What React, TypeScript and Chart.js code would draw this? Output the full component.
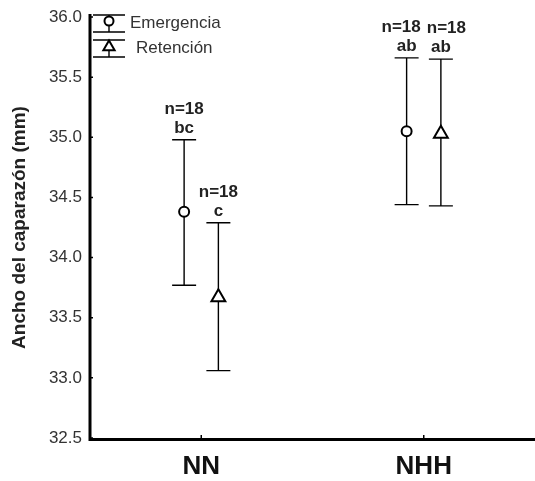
import React, { useEffect, useRef } from 'react';
import { Chart, registerables } from 'chart.js';

Chart.register(...registerables);

const categories = ['NN', 'NHH'];
const seriesNames = ['Emergencia', 'Retención'];
const emergenciaMean = [34.38, 35.05];
const emergenciaLow = [33.77, 34.44];
const emergenciaHigh = [34.98, 35.66];
const retencionMean = [33.67, 35.03];
const retencionLow = [33.06, 34.43];
const retencionHigh = [34.29, 35.65];
const emergenciaN = [18, 18];
const retencionN = [18, 18];
const emergenciaLetters = ['bc', 'ab'];
const retencionLetters = ['c', 'ab'];
const yTickValues = [32.5, 33.0, 33.5, 34.0, 34.5, 35.0, 35.5, 36.0];
const yTitle = 'Ancho del caparazón (mm)';

const FONT = '"Liberation Sans", Arial, sans-serif';
const SERIES_OFFSET = 0.077;

const seriesStats = [
  { mean: emergenciaMean, low: emergenciaLow, high: emergenciaHigh, n: emergenciaN, letters: emergenciaLetters, style: 'circle' },
  { mean: retencionMean, low: retencionLow, high: retencionHigh, n: retencionN, letters: retencionLetters, style: 'triangle' },
];

function drawMarker(ctx: CanvasRenderingContext2D, style: string, x: number, y: number, r: number) {
  ctx.save();
  ctx.fillStyle = '#fff';
  ctx.strokeStyle = '#000';
  ctx.lineWidth = 2;
  ctx.beginPath();
  if (style === 'circle') {
    ctx.arc(x, y, r, 0, Math.PI * 2);
  } else {
    const h = r * 1.5;
    const w = r * Math.sqrt(3);
    ctx.moveTo(x, y - r);
    ctx.lineTo(x + w / 2, y - r + h);
    ctx.lineTo(x - w / 2, y - r + h);
    ctx.closePath();
  }
  ctx.fill();
  ctx.stroke();
  ctx.restore();
}

const customPlugin = {
  id: 'customDraw',
  beforeDraw(chart: any) {
    const ctx = chart.ctx;
    ctx.save();
    ctx.fillStyle = '#fff';
    ctx.fillRect(0, 0, chart.width, chart.height);
    ctx.restore();
  },
  beforeDatasetsDraw(chart: any) {
    const ctx: CanvasRenderingContext2D = chart.ctx;
    const ys = chart.scales.y;
    const xs = chart.scales.x;
    const { left, right, top, bottom } = chart.chartArea;
    ctx.save();
    // axes
    ctx.strokeStyle = '#000';
    ctx.lineWidth = 3;
    ctx.beginPath();
    ctx.moveTo(left, top - 3);
    ctx.lineTo(left, bottom + 1.5);
    ctx.lineTo(right, bottom + 1.5);
    ctx.stroke();
    // tick marks
    ctx.lineWidth = 1.5;
    ctx.beginPath();
    yTickValues.forEach((v) => {
      const py = ys.getPixelForValue(v);
      ctx.moveTo(left, py);
      ctx.lineTo(left + 3, py);
    });
    categories.forEach((_, i) => {
      const px = xs.getPixelForValue(i);
      ctx.moveTo(px, bottom);
      ctx.lineTo(px, bottom - 3);
    });
    ctx.stroke();
    // error bars
    ctx.lineWidth = 1.4;
    seriesStats.forEach((s, di) => {
      const meta = chart.getDatasetMeta(di);
      meta.data.forEach((pt: any, j: number) => {
        const x = pt.x;
        const yh = ys.getPixelForValue(s.high[j]);
        const yl = ys.getPixelForValue(s.low[j]);
        ctx.beginPath();
        ctx.moveTo(x, yh);
        ctx.lineTo(x, yl);
        ctx.moveTo(x - 12, yh);
        ctx.lineTo(x + 12, yh);
        ctx.moveTo(x - 12, yl);
        ctx.lineTo(x + 12, yl);
        ctx.stroke();
      });
    });
    ctx.restore();
  },
  afterDatasetsDraw(chart: any) {
    const ctx: CanvasRenderingContext2D = chart.ctx;
    const ys = chart.scales.y;
    const { left, top } = chart.chartArea;
    ctx.save();
    ctx.font = `bold 17px ${FONT}`;
    ctx.fillStyle = '#222';
    ctx.textAlign = 'center';
    ctx.textBaseline = 'alphabetic';
    categories.forEach((_, j) => {
      const items = seriesStats.map((s, di) => {
        const pt = chart.getDatasetMeta(di).data[j];
        return { x: pt.x, top: ys.getPixelForValue(s.high[j]), n: `n=${s.n[j]}`, letter: s.letters[j], nx: pt.x };
      });
      const a = items[0];
      const b = items[1];
      if (Math.abs(a.top - b.top) < 20) {
        const need = Math.max(ctx.measureText(a.n).width, ctx.measureText(b.n).width) + 6;
        const dist = b.x - a.x;
        if (dist < need) {
          const shift = (need - dist) / 2;
          a.nx -= shift;
          b.nx += shift;
        }
      }
      items.forEach((it) => {
        ctx.fillText(it.letter, it.x, it.top - 7);
        ctx.fillText(it.n, it.nx, it.top - 26);
      });
    });
    // legend
    const cx = left + 19;
    seriesStats.forEach((s, i) => {
      const my = top + 4 + i * 25;
      ctx.strokeStyle = '#000';
      ctx.lineWidth = 1.4;
      ctx.beginPath();
      ctx.moveTo(cx - 16, my - 6);
      ctx.lineTo(cx + 16, my - 6);
      ctx.moveTo(cx, my - 6);
      ctx.lineTo(cx, my + 11);
      ctx.moveTo(cx - 16, my + 11);
      ctx.lineTo(cx + 16, my + 11);
      ctx.stroke();
      drawMarker(ctx, s.style, cx, my + (s.style === 'circle' ? 0 : 1), s.style === 'circle' ? 4.5 : 6.5);
      ctx.font = `17px ${FONT}`;
      ctx.fillStyle = '#333';
      ctx.textAlign = 'left';
      ctx.textBaseline = 'middle';
      ctx.fillText(seriesNames[i], left + 40 + i * 6, my + 2);
    });
    ctx.restore();
  },
};

export default function App() {
  const canvasRef = useRef<HTMLCanvasElement | null>(null);

  useEffect(() => {
    if (!canvasRef.current) return;
    const datasets = seriesStats.map((s, di) => ({
      label: seriesNames[di],
      data: s.mean.map((v, i) => ({ x: i + (di === 0 ? -SERIES_OFFSET : SERIES_OFFSET), y: v })),
      pointStyle: s.style,
      pointRadius: s.style === 'circle' ? 5 : 8,
      pointBorderWidth: 2,
      pointBorderColor: '#000',
      pointBackgroundColor: '#fff',
      showLine: false,
    }));
    const chart = new Chart(canvasRef.current, {
      type: 'scatter',
      data: { datasets: datasets as any },
      options: {
        animation: false,
        responsive: false,
        maintainAspectRatio: false,
        layout: { autoPadding: false, padding: { top: 17, left: 0, right: 0, bottom: 0 } },
        plugins: { legend: { display: false }, tooltip: { enabled: false } },
        scales: {
          x: {
            type: 'linear',
            min: -0.5,
            max: 1.5,
            grid: { display: false },
            border: { display: false },
            afterBuildTicks: (scale: any) => {
              scale.ticks = categories.map((_, i) => ({ value: i }));
            },
            afterFit: (scale: any) => {
              scale.height = 43;
              scale.paddingLeft = 0;
              scale.paddingRight = 0;
            },
            ticks: {
              callback: (v: any) => categories[v] ?? '',
              font: { family: FONT, size: 26, weight: 'bold' },
              color: '#111',
              padding: 5,
              maxRotation: 0,
            },
          },
          y: {
            type: 'linear',
            min: 32.5,
            max: 36.0,
            grid: { display: false },
            border: { display: false },
            afterBuildTicks: (scale: any) => {
              scale.ticks = yTickValues.map((v) => ({ value: v }));
            },
            afterFit: (scale: any) => {
              scale.width = 90;
              scale.paddingTop = 0;
              scale.paddingBottom = 0;
            },
            ticks: {
              callback: (v: any) => Number(v).toFixed(1),
              font: { family: FONT, size: 17 },
              color: '#333',
              padding: 0,
            },
            title: {
              display: true,
              text: yTitle,
              font: { family: FONT, size: 19, weight: 'bold' },
              color: '#222',
              padding: { top: 8, bottom: 0 },
            },
          },
        },
      },
      plugins: [customPlugin],
    });
    return () => chart.destroy();
  }, []);

  return (
    <div style={{ position: 'fixed', left: 0, top: 0, width: 535, height: 481, background: '#fff' }}>
      <canvas ref={canvasRef} width={535} height={481} style={{ display: 'block', width: 535, height: 481 }} />
    </div>
  );
}
